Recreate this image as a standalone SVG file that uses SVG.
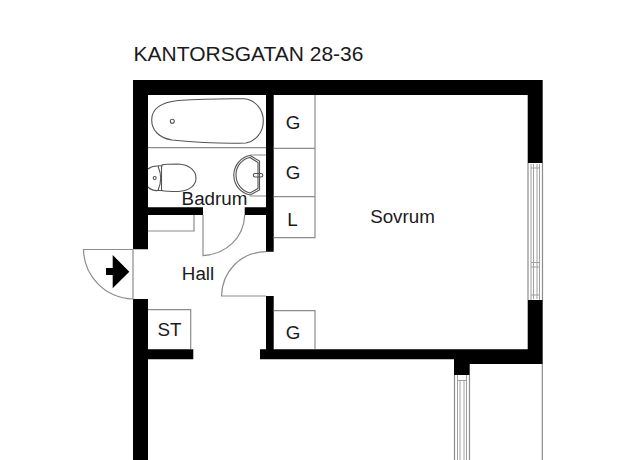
<svg xmlns="http://www.w3.org/2000/svg" width="625" height="460" viewBox="0 0 625 460">
<style>
.wall{fill:#000}
.thin{fill:none;stroke:#8c8c8c;stroke-width:1.2}
.win{fill:none;stroke:#a0a0a0;stroke-width:1}
.fix{fill:none;stroke:#555;stroke-width:1.1}
text{font-family:"Liberation Sans",Arial,sans-serif;font-size:18.800px;fill:#1a1a1a;text-anchor:middle}
</style>
<rect width="625" height="460" fill="#fff"/>
<text id="title" x="248.500" y="61" style="font-size:21px">KANTORSGATAN 28-36</text>
<g id="walls">
<path class="wall" d="M133 80H542.700V163H527.700V95H148V207.300H203V215H148V249.300H133Z"/>
<path class="wall" d="M133 299H148V349.300H193.300V359.300H148V460H133Z"/>
<path class="wall" d="M266 95H273.700V251.700H266V215H244.700V207.300H266Z"/>
<path class="wall" d="M266 296H273.700V349.300H527.700V300H542.700V364H469.700V375H454V359.300H260V349.300H266Z"/>
</g>
<g id="closets">
<path class="thin" d="M315 95V237.700H273.700M273.700 148.300H315M273.700 196.700H315"/>
<path class="thin" d="M273.700 310.700H315V349.300"/>
<path class="thin" d="M148 309.700H190.700V349.300"/>
<path class="thin" d="M148 231H194V215"/>
</g>
<g id="doors">
<path class="thin" d="M203 215V255.700C226 254 244 238 244.700 215"/>
<path class="thin" d="M266 251.700C240 252 222 272 221.500 296H266"/>
<path class="thin" d="M133 249.300V299C105 298 84 276 83.500 249.500H133"/>
<path class="wall" d="M106 268H112.700V255L129.300 271.700L112.700 288.300V275H106Z"/>
</g>
<g id="windows">
<path class="thin" d="M528 163V300M542.500 163V300"/>
<path class="win" d="M531 164V300M539.500 164V300M533.500 164V299M537 164V299M531 168H539.500M531 262.500H539.500M531 267H539.500M531 295H539.500"/>
<path class="thin" d="M454.500 375V460M469.500 375V460"/>
<path class="win" d="M457.500 375V460M466.500 375V460M460 380V460M464 380V460M457.500 380.500H466.500"/>
<path class="thin" d="M542.300 364V460"/>
</g>
<g id="fixtures">
<path class="thin" d="M148 147.700H266"/>
<path class="fix" d="M178 100.500C200 99 225 98.600 244 98.800C256 100 263.300 110 263.300 121C263.300 132 256 141 246 143C222 144 198 142.500 172 140C159 138 151.700 130 151.700 120C151.700 110 159 102.500 178 100.500Z"/>
<circle class="fix" cx="172.300" cy="121.300" r="2"/>
<path class="fix" d="M148 169C151 166.500 155 165.800 158 166C160 171 160.700 174 160.700 178C160.700 183 160 186 158 190.500C155 190.800 151 190 148 187"/>
<path class="fix" d="M158 165.800H163M158 190.500H163M161.500 165.500V190.500"/>
<path class="fix" d="M161.500 165C166 164 172 164 178 164C190 164.500 196 171 196 178C196 185 190 191 178 191.500C172 191.500 166 191.500 161.500 190.500"/>
<circle class="fix" cx="154.700" cy="178" r="1.500"/>
<path class="thin" d="M266 155H250M266 196H250"/>
<path class="fix" d="M250 155.500L259.500 161V190L250 195C241 193 234 186 233.800 175C234 165 241 157 250 155.500Z"/>
<path class="fix" d="M250 157.500L258 162.500V188.500L250 193C242 191 236 184 236 175C236 166 242 159 250 157.500Z"/>
<rect class="fix" x="253.300" y="173.500" width="9.500" height="3.500" rx="1.700"/>
</g>
<g id="labels">
<text x="214.500" y="205">Badrum</text>
<text x="198" y="280">Hall</text>
<text x="402.500" y="223">Sovrum</text>
<text x="293" y="129">G</text>
<text x="293" y="179">G</text>
<text x="292.500" y="226">L</text>
<text x="293" y="339">G</text>
<text x="169.500" y="336">ST</text>
</g>
</svg>
